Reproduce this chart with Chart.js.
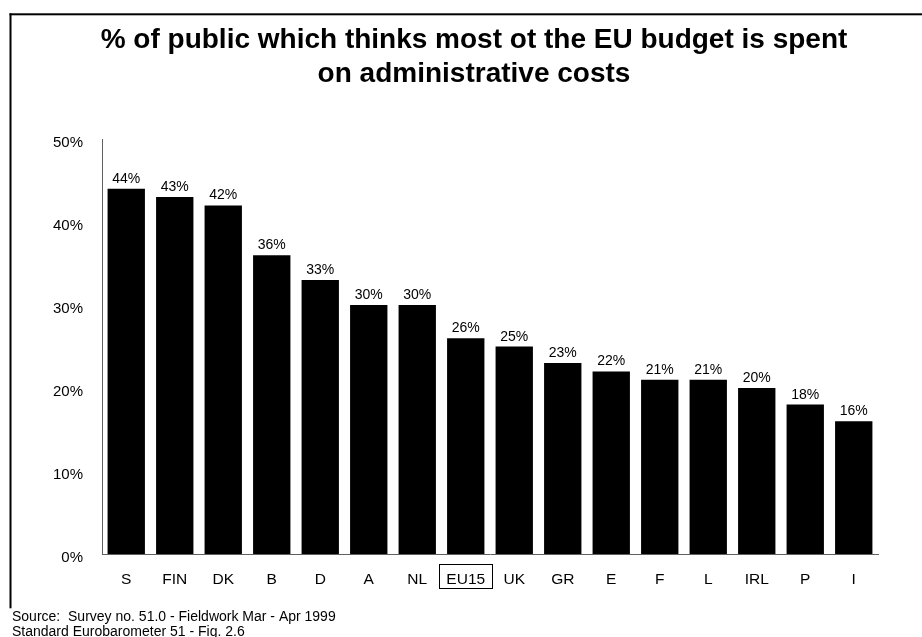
<!DOCTYPE html>
<html>
<head>
<meta charset="utf-8">
<title>EU budget - administrative costs</title>
<script src="https://cdn.jsdelivr.net/npm/chart.js@4.4.1/dist/chart.umd.min.js"></script>
<style>
  html, body { margin: 0; padding: 0; background: #fff; }
  #wrap { position: relative; width: 922px; height: 637px; }
</style>
</head>
<body>
<div id="wrap"><canvas id="budgetChart" width="922" height="637"></canvas></div>
<script>
// countries, ordered by share
var countries = ["S", "FIN", "DK", "B", "D", "A", "NL", "EU15", "UK", "GR", "E", "F", "L", "IRL", "P", "I"];
var shares = [44, 43, 42, 36, 33, 30, 30, 26, 25, 23, 22, 21, 21, 20, 18, 16];
var yTicks = [0, 10, 20, 30, 40, 50];
var titleLines = ["% of public which thinks most ot the EU budget is spent", "on administrative costs"];
var sourceLines = ["Source:  Survey no. 51.0 - Fieldwork Mar - Apr 1999", "Standard Eurobarometer 51 - Fig. 2.6"];

var FONT = "Arial, 'Liberation Sans', Helvetica, sans-serif";

// title, value labels, EU15 box, frame and source note
var decorations = {
  id: 'decorations',
  afterDatasetsDraw: function(chart) {
    var ctx = chart.ctx;
    var meta = chart.getDatasetMeta(0);
    ctx.save();
    ctx.fillStyle = '#000';
    ctx.font = '14px ' + FONT;
    ctx.textAlign = 'center';
    ctx.textBaseline = 'alphabetic';
    meta.data.forEach(function(bar, i) {
      ctx.fillText(shares[i] + '%', bar.x, bar.y - 6);
    });
    ctx.restore();
  },
  afterDraw: function(chart) {
    var ctx = chart.ctx;
    ctx.save();

    // frame (left and top edges only)
    ctx.fillStyle = '#000';
    ctx.fillRect(9.5, 13.3, 2, 595);
    ctx.fillRect(9.5, 13.3, 922, 2);

    // title
    ctx.font = 'bold 28px ' + FONT;
    ctx.textAlign = 'center';
    ctx.textBaseline = 'alphabetic';
    ctx.fillText(titleLines[0], 474, 48);
    ctx.fillText(titleLines[1], 474, 82);

    // box round the EU15 label
    var x = chart.scales.x;
    var idx = countries.indexOf('EU15');
    var cx = x.getPixelForTick(idx);
    ctx.font = '15.5px ' + FONT;
    var w = ctx.measureText('EU15').width + 14;
    ctx.strokeStyle = '#000';
    ctx.lineWidth = 1;
    ctx.strokeRect(Math.round(cx - w / 2) + 0.5, 564.5, Math.round(w), 24);

    // source note
    ctx.font = '14px ' + FONT;
    ctx.textAlign = 'left';
    ctx.fillText(sourceLines[0], 12, 621);
    ctx.fillText(sourceLines[1], 12, 636);
    ctx.restore();
  }
};

new Chart(document.getElementById('budgetChart'), {
  type: 'bar',
  data: {
    labels: countries,
    datasets: [{
      data: shares,
      backgroundColor: '#000',
      borderWidth: 0,
      barPercentage: 0.77,
      categoryPercentage: 1
    }]
  },
  options: {
    responsive: false,
    animation: false,
    layout: { padding: { top: 139, right: 44, bottom: 0, left: 0 } },
    plugins: {
      legend: { display: false },
      title: { display: false },
      tooltip: { enabled: false }
    },
    scales: {
      x: {
        grid: { display: false, drawTicks: false },
        border: { display: true, color: '#606060', width: 1 },
        ticks: { color: '#000', font: { family: FONT, size: 15.5 }, padding: 16, maxRotation: 0, autoSkip: false },
        afterFit: function(scale) { scale.height = 83; }
      },
      y: {
        min: 0,
        max: 50,
        grid: { display: false, drawTicks: false },
        border: { display: true, color: '#606060', width: 1 },
        afterBuildTicks: function(scale) {
          scale.ticks = yTicks.map(function(v) { return { value: v }; });
        },
        ticks: {
          color: '#000',
          font: { family: FONT, size: 15 },
          padding: 19,
          labelOffset: 4,
          callback: function(v) { return v + '%'; }
        },
        afterFit: function(scale) { scale.width = 102; }
      }
    }
  },
  plugins: [decorations]
});
</script>
</body>
</html>
